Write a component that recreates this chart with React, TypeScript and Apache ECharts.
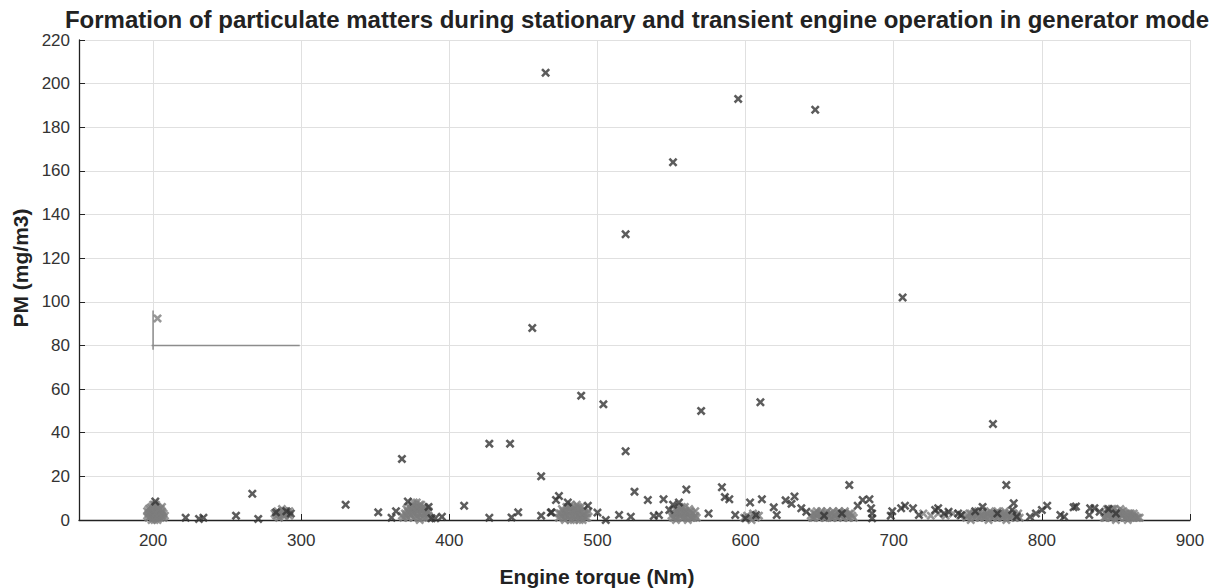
import React, { useEffect, useRef } from "react";
import * as echarts from "echarts";

const TITLE = "Formation of particulate matters during stationary and transient engine operation in generator mode";
const X_NAME = "Engine torque (Nm)";
const Y_NAME = "PM (mg/m3)";

// transient operation points (dark crosses): [torque, PM]
const transientPoints: number[][] = [
  [465, 205], [595, 193], [647, 188], [551, 164], [519, 131], [706, 102], [456, 88],
  [489, 57], [504, 53], [610, 54], [570, 50], [767, 44], [427, 35], [441, 35], [519, 31.5],
  [368, 28], [462, 20], [670, 16], [776, 16], [584, 15], [560, 14], [525, 13], [267, 12],
  [474, 11], [586, 10.5], [633, 10.8], [544.6, 9.5], [534, 9.2], [589, 9.5], [611, 9.5],
  [627, 9], [679, 9.2], [683.6, 9.5], [472, 9.2], [480, 8], [555, 8], [603, 8], [781, 7.7],
  [551, 7], [631, 7.4], [330, 7], [410, 6.5], [493.5, 6.5], [675.7, 6.5], [707.6, 6.5],
  [803.6, 6.5], [823, 6.2], [619, 5.8], [821.4, 5.8], [705, 5.4], [713, 5.4], [730, 5.4],
  [637.6, 5.4], [684.7, 5.4], [832.6, 5.4], [835.5, 5.4], [728, 4.6], [548.5, 4.6], [780, 4.6],
  [699, 4], [800, 4.6], [469, 3.5], [446.5, 3.5], [352, 3.5], [500, 3.4], [641, 3.8], [737, 3.8],
  [839, 3.8], [575, 3], [685.4, 3], [743.5, 3], [734, 3], [796, 3], [442, 1.2], [462, 2],
  [514.6, 2.3], [522.5, 1.5], [538, 1.8], [541.5, 2.3], [593, 2.3], [607, 2.3], [621, 2.3],
  [717, 2.3], [745.6, 2.3], [812.5, 2.3], [832, 2.3], [783, 1.5], [792, 1.5], [815, 1.5],
  [600, 0.8], [685.4, 0.8], [505.6, 0], [427, 1], [390.5, 0.8], [395, 1.5], [388, 0.8], [361, 1],
  [222, 1], [231, 0.5], [234, 1], [256, 2], [271, 0.5], [201.5, 8.5], [283, 3.5], [290, 4],
  [293, 3], [364, 4], [372, 8.5], [386, 6], [468.5, 3.4], [698, 2], [755, 4], [770, 3], [845, 5],
  [850, 3], [760, 6], [653, 2], [665, 3]
];

// stationary operation points (grey crosses): [torque, PM]
const stationaryPoints: number[][] = [
  [203, 92.4],
  [197, 1], [197, 3], [197, 5], [199, 0], [199, 2], [199, 4], [199, 6], [201, 0], [201, 2], [201, 4],
  [201, 6], [201, 7], [203, 0], [203, 2], [203, 4], [203, 6], [205, 1], [205, 3], [205, 5], [207, 1],
  [207, 3], [206, 6], [198, 1.5], [198, 3.5], [198, 5.5], [200, 1], [200, 3], [200, 5], [200, 7],
  [202, 1], [202, 3], [202, 5], [202, 7], [204, 1], [204, 3], [204, 5], [206, 2], [206, 4], [208, 2],
  [196, 2], [196, 4],
  [282, 3], [284, 2], [284, 4], [286, 3], [288, 2], [288, 4], [290, 3], [292, 2], [292, 4], [287, 5],
  [285, 1], [283, 2], [285, 3], [287, 3], [289, 2], [291, 3], [289, 4],
  [369, 1], [370, 3], [372, 1], [372, 4], [373, 6], [374, 2], [375, 4], [375, 7], [376, 1], [377, 3],
  [377, 5], [378, 8], [379, 1], [379, 6], [380, 3], [381, 5], [381, 7], [382, 1], [383, 3], [383, 6],
  [384, 1], [385, 4], [386, 2], [376, 8], [380, 0], [371, 2], [371, 5], [373, 3], [374, 5], [376, 3],
  [376, 6], [378, 2], [378, 4], [378, 6], [380, 5], [380, 7], [382, 3], [382, 5], [384, 3], [384, 5],
  [386, 4], [368, 2], [387, 1],
  [474, 1], [475, 3], [476, 5], [477, 1], [478, 3], [479, 6], [480, 1], [481, 4], [482, 7], [483, 2],
  [484, 5], [485, 1], [486, 3], [487, 6], [488, 1], [489, 4], [490, 2], [491, 5], [492, 1], [493, 3],
  [486, 7], [480, 6], [484, 0], [478, 0], [490, 0], [474, 3], [476, 2], [477, 4], [479, 2], [479, 4],
  [481, 2], [481, 6], [483, 4], [483, 6], [485, 3], [485, 5], [487, 2], [487, 4], [489, 2], [489, 6],
  [491, 3], [493, 1], [494, 4], [482, 0], [488, 0],
  [551, 1], [552, 3], [553, 5], [554, 1], [555, 3], [556, 5], [557, 1], [558, 3], [559, 6], [560, 1],
  [561, 3], [562, 5], [563, 1], [564, 3], [565, 1], [566, 2], [557, 6], [553, 0], [561, 0], [550, 2],
  [552, 1], [553, 3], [554, 4], [556, 2], [557, 4], [558, 1], [559, 4], [560, 3], [562, 2], [563, 4],
  [564, 1], [566, 4], [567, 1], [555, 6],
  [599, 1], [601, 2], [603, 1], [605, 3], [607, 1], [609, 2], [604, 0],
  [644, 2], [646, 1], [646, 3], [648, 2], [650, 1], [650, 3], [652, 2], [654, 1], [654, 3], [656, 2],
  [658, 1], [658, 3], [660, 2], [662, 1], [662, 3], [664, 2], [666, 1], [666, 3], [668, 2], [670, 1],
  [670, 3], [672, 2], [648, 4], [655, 4], [663, 4], [645, 1], [647, 3], [649, 2], [651, 3], [653, 1],
  [655, 2], [657, 3], [659, 1], [661, 2], [663, 3], [665, 2], [667, 3], [669, 1], [671, 3], [673, 1],
  [651, 4], [659, 4], [667, 4],
  [720, 3], [725, 2], [730, 3], [735, 2], [740, 3], [745, 2], [749, 1], [751, 3], [753, 2], [755, 1],
  [757, 3], [759, 2], [761, 1], [763, 3], [765, 2], [767, 1], [769, 3], [771, 2], [773, 1], [775, 3],
  [777, 2], [779, 1], [781, 3], [783, 2], [785, 1], [760, 4], [770, 4], [752, 0], [764, 0], [776, 0],
  [750, 2], [752, 3], [754, 3], [756, 2], [758, 1], [760, 2], [762, 2], [764, 3], [766, 3], [768, 2],
  [770, 1], [772, 3], [774, 2], [776, 2], [778, 3], [780, 2], [782, 1], [784, 3], [757, 4], [765, 4],
  [775, 4],
  [842, 1], [843, 3], [844, 5], [845, 2], [846, 4], [847, 1], [848, 3], [849, 5], [850, 2], [851, 4],
  [852, 1], [853, 3], [854, 2], [855, 4], [856, 1], [857, 3], [858, 2], [859, 1], [860, 3], [861, 2],
  [862, 1], [863, 2], [865, 1], [850, 0], [858, 0], [843, 1], [844, 2], [845, 4], [846, 1], [847, 3],
  [848, 5], [849, 2], [851, 2], [852, 3], [853, 5], [854, 4], [856, 3], [857, 1], [859, 3], [860, 1],
  [862, 3], [864, 1], [866, 1], [847, 5]
];

// grey reference bracket
const bracketVertical: number[][] = [[200, 96], [200, 78]];
const bracketHorizontal: number[][] = [[199, 80], [299, 80]];

const X_MIN = 150;
const X_MAX = 900;
const Y_MIN = 0;
const Y_MAX = 220;
const Y_STEP = 20;

const CROSS = "path://M0,2 L2,0 L5,3 L8,0 L10,2 L7,5 L10,8 L8,10 L5,7 L2,10 L0,8 L3,5 Z";
const FONT = "'Liberation Sans', Arial, Helvetica, sans-serif";

export default function App() {
  const ref = useRef<HTMLDivElement>(null);
  useEffect(() => {
    if (!ref.current) return;
    const chart = echarts.init(ref.current, null, { renderer: "svg" });
    chart.setOption({
      animation: false,
      backgroundColor: "#ffffff",
      textStyle: { fontFamily: FONT },
      grid: { left: 79, right: 41, top: 40, bottom: 68, containLabel: false },
      xAxis: {
        type: "value",
        min: X_MIN,
        max: X_MAX,
        splitNumber: 7,
        axisLine: { show: true, lineStyle: { color: "#222", width: 1.3 } },
        axisTick: { show: true, inside: true, length: 6, lineStyle: { color: "#222" } },
        axisLabel: {
          color: "#333",
          fontSize: 17,
          fontFamily: FONT,
          margin: 12,
          showMinLabel: false,
          formatter: (v: number) => (v % 100 === 0 ? String(v) : "")
        },
        splitLine: { show: true, lineStyle: { color: "#e0e0e0", width: 1 } }
      },
      yAxis: {
        type: "value",
        min: Y_MIN,
        max: Y_MAX,
        interval: Y_STEP,
        axisLine: { show: true, lineStyle: { color: "#222", width: 1.3 } },
        axisTick: { show: true, inside: true, length: 6, lineStyle: { color: "#222" } },
        axisLabel: { color: "#333", fontSize: 17, fontFamily: FONT, margin: 9 },
        splitLine: { show: true, lineStyle: { color: "#e0e0e0", width: 1 } }
      },
      graphic: [
        {
          type: "text",
          x: 637,
          y: 19,
          style: {
            text: TITLE,
            fontSize: 24,
            fontWeight: "bold",
            fontFamily: FONT,
            fill: "#222",
            textAlign: "center",
            textVerticalAlign: "middle"
          }
        },
        {
          type: "text",
          x: 597,
          y: 576,
          style: {
            text: X_NAME,
            fontSize: 21,
            fontWeight: "bold",
            fontFamily: FONT,
            fill: "#222",
            textAlign: "center",
            textVerticalAlign: "middle"
          }
        },
        {
          type: "text",
          x: 20,
          y: 268,
          rotation: Math.PI / 2,
          style: {
            text: Y_NAME,
            fontSize: 21,
            fontWeight: "bold",
            fontFamily: FONT,
            fill: "#222",
            textAlign: "center",
            textVerticalAlign: "middle"
          }
        }
      ],
      series: [
        {
          type: "line",
          data: bracketVertical,
          showSymbol: false,
          symbol: "none",
          lineStyle: { color: "#8c8c8c", width: 1.5 },
          silent: true,
          z: 1
        },
        {
          type: "line",
          data: bracketHorizontal,
          showSymbol: false,
          symbol: "none",
          lineStyle: { color: "#8c8c8c", width: 1.5 },
          silent: true,
          z: 1
        },
        {
          type: "scatter",
          name: "stationary",
          data: stationaryPoints,
          symbol: CROSS,
          symbolSize: 9,
          clip: false,
          itemStyle: { color: "#7d7d7d" },
          z: 2
        },
        {
          type: "scatter",
          name: "transient",
          data: transientPoints,
          symbol: CROSS,
          symbolSize: 9,
          clip: false,
          itemStyle: { color: "#333333" },
          z: 3
        }
      ]
    });
    return () => chart.dispose();
  }, []);
  return (
    <div
      ref={ref}
      style={{ position: "fixed", left: 0, top: 0, width: 1231, height: 588, background: "#fff" }}
    />
  );
}
